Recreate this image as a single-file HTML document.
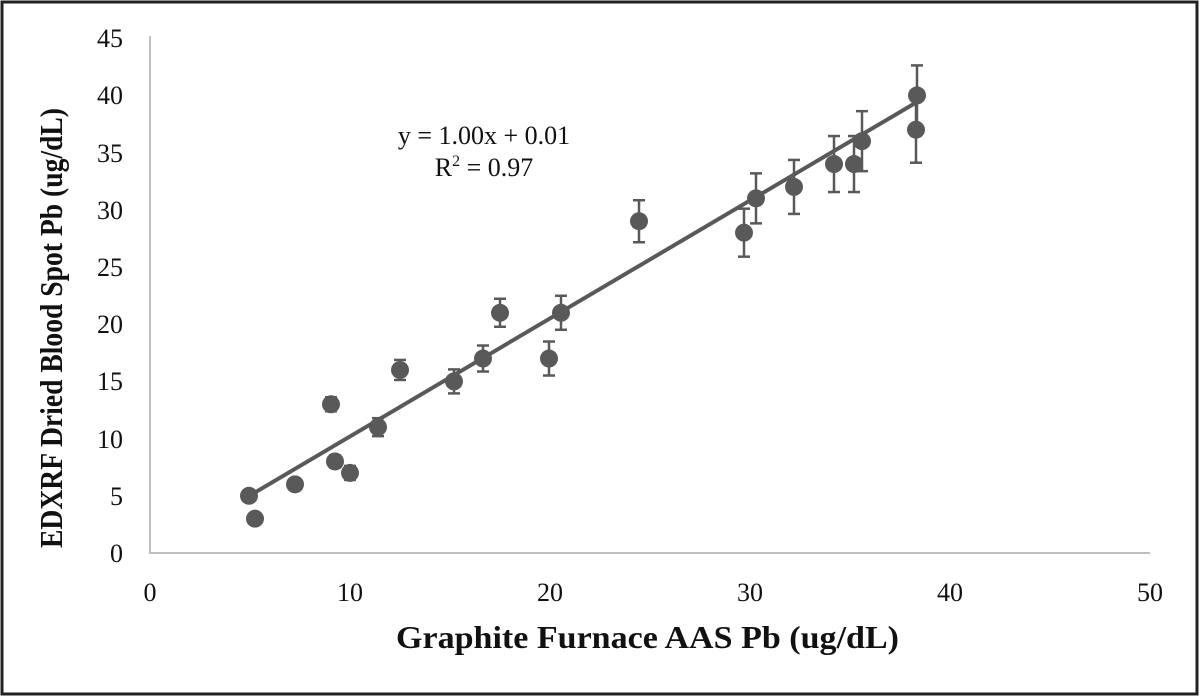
<!DOCTYPE html>
<html><head><meta charset="utf-8"><style>
html,body{margin:0;padding:0;background:#fff}
svg{display:block}
text{font-family:"Liberation Serif",serif}
</style></head><body>
<svg width="1200" height="697" viewBox="0 0 1200 697">
<rect x="2" y="2" width="1195" height="692" fill="#fff" stroke="#222" stroke-width="3"/>
<g stroke="#bfbfbf" stroke-width="2" fill="none">
<line x1="150" y1="36" x2="150" y2="553"/>
<line x1="149" y1="553" x2="1150" y2="553"/>
</g>
<g font-size="26" fill="#111" text-anchor="end">
<text x="123" y="562">0</text><text x="123" y="505">5</text><text x="123" y="448">10</text><text x="123" y="390">15</text><text x="123" y="333">20</text><text x="123" y="276">25</text><text x="123" y="219">30</text><text x="123" y="162">35</text><text x="123" y="104">40</text><text x="123" y="47">45</text>
</g>
<g font-size="26" fill="#111" text-anchor="middle">
<text x="150" y="601">0</text><text x="350" y="601">10</text><text x="550" y="601">20</text><text x="750" y="601">30</text><text x="950" y="601">40</text><text x="1150" y="601">50</text>
</g>
<text x="396" y="648" font-size="32" font-weight="bold" fill="#111" textLength="503" lengthAdjust="spacingAndGlyphs">Graphite Furnace AAS Pb (ug/dL)</text>
<text transform="translate(62,548) rotate(-90)" font-size="32" font-weight="bold" fill="#111" textLength="440" lengthAdjust="spacingAndGlyphs">EDXRF Dried Blood Spot Pb (ug/dL)</text>
<text x="484" y="144" font-size="26" fill="#111" text-anchor="middle">y = 1.00x + 0.01</text>
<text x="484" y="176" font-size="26" fill="#111" text-anchor="middle">R<tspan font-size="16" dy="-10">2</tspan><tspan dy="10"> = 0.97</tspan></text>
<line x1="249" y1="496" x2="917" y2="102" stroke="#595959" stroke-width="4"/>
<g stroke="#595959" stroke-width="2.5" fill="#595959" id="pts"></g>
</svg>
<script>
var d=[[249,5,3],[255,3,3],[295,6,4],[331,13,7],[335,8,6],[350,7,7],[378,11,9],[400,16,10],[454,15,12],[483,17,13],[500,21,14],[549,17,17],[561,21,17],[639,29,21],[744,28,24],[756,31,25],[794,32,27],[834,34,28],[854,34,28],[862,36,30],[916,37,33],[917,40,30]];
var g=document.getElementById('pts'),s='';
d.forEach(function(p){var x=p[0],y=553-p[1]*11.44,e=p[2];
s+='<line x1="'+x+'" y1="'+(y-e)+'" x2="'+x+'" y2="'+(y+e)+'"/>';
s+='<line x1="'+(x-6)+'" y1="'+(y-e)+'" x2="'+(x+6)+'" y2="'+(y-e)+'"/>';
s+='<line x1="'+(x-6)+'" y1="'+(y+e)+'" x2="'+(x+6)+'" y2="'+(y+e)+'"/>';});
d.forEach(function(p){s+='<circle cx="'+p[0]+'" cy="'+(553-p[1]*11.44)+'" r="9" stroke="none"/>';});
g.innerHTML=s;
</script>
</body></html>
